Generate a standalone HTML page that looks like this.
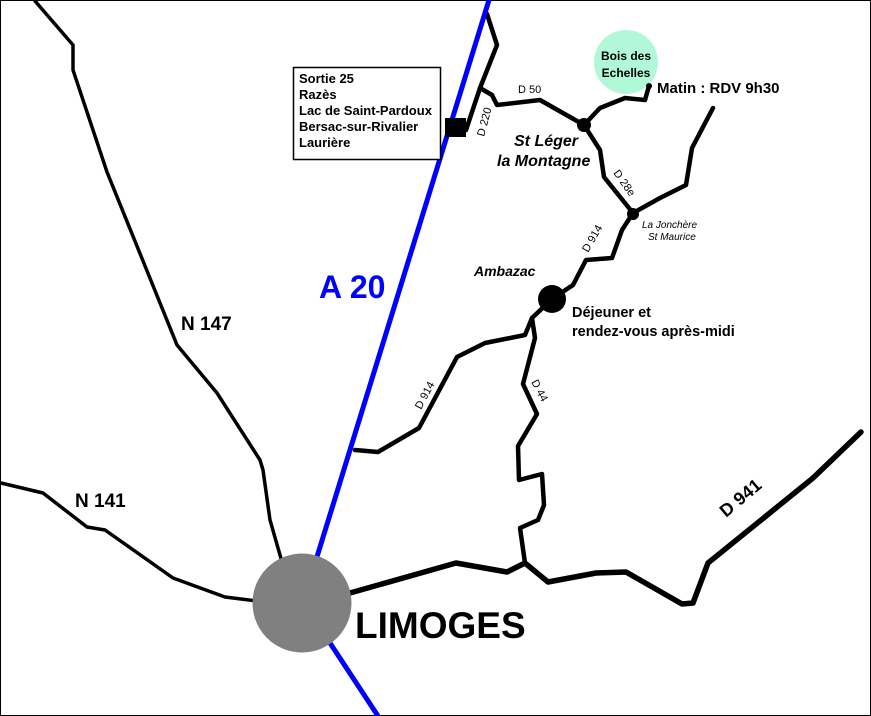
<!DOCTYPE html>
<html><head><meta charset="utf-8"><style>
html,body{margin:0;padding:0;background:#fff}
svg{display:block}
text{font-family:"Liberation Sans",Arial,sans-serif;font-weight:bold;fill:#000}
.n{font-weight:normal}
</style></head><body>
<svg width="871" height="716" viewBox="0 0 871 716" xmlns="http://www.w3.org/2000/svg">
<rect x="0.5" y="0.5" width="870" height="715" fill="#fff" stroke="#000" stroke-width="1"/>
<g fill="none" stroke="#000" stroke-linejoin="round" stroke-linecap="round">
<polyline stroke-width="3.5" points="35,1 73,45 73,70 107,172 177,345 217,393 260,460 263,470 270,520 282,562"/>
<polyline stroke-width="3.5" points="1,483 43,493 87,527 105,530 173,578 225,597 257,601"/>
<polyline stroke-width="4.5" points="487,14 497,45 480,88 466,130 458,128"/>
<polyline stroke-width="4.5" points="480,88 492,95 497,105 540,100 584,125"/>
<polyline stroke-width="4.5" points="584,125 600,108 625,98 645,100 649,86"/>
<polyline stroke-width="4.5" points="584,125 600,150 604,177 633,213"/>
<polyline stroke-width="4.5" points="633,213 660,198 686,185 692,148 713,108"/>
<polyline stroke-width="4.5" points="633,213 622,230 612,258 586,260 573,285 552,299"/>
<polyline stroke-width="4.5" points="552,299 532,318 525,335 485,343 457,357 419,428 378,452 355,450"/>
<polyline stroke-width="4.5" points="532,318 535,338 523,384 537,414 518,446 519,480 542,474 544,505 538,520 520,528 525,563"/>
<polyline stroke-width="5.5" points="350,593 456,563 507,572 525,563 548,582 596,573 626,572 682,604 693,603 708,563 813,478 861,432"/>
</g>
<line x1="489" y1="0" x2="316" y2="560" stroke="#0000ff" stroke-width="5"/>
<line x1="330" y1="643" x2="378" y2="716" stroke="#0000ff" stroke-width="5"/>
<circle cx="302" cy="603" r="49.5" fill="#808080"/>
<circle cx="584" cy="125" r="7" fill="#000"/>
<circle cx="633" cy="214" r="6" fill="#000"/>
<circle cx="552" cy="299" r="14" fill="#000"/>
<rect x="445" y="118" width="21" height="19" fill="#000"/>
<circle cx="626" cy="62" r="32" fill="#b0f8d8"/>
<circle cx="649" cy="86" r="3" fill="#000"/>
<rect x="293.5" y="67.5" width="147" height="92" fill="#fff" stroke="#000" stroke-width="1.5"/>
<text font-size="13">
<tspan x="299" y="83">Sortie 25</tspan>
<tspan x="299" y="99">Razès</tspan>
<tspan x="299" y="115">Lac de Saint-Pardoux</tspan>
<tspan x="299" y="131">Bersac-sur-Rivalier</tspan>
<tspan x="299" y="147">Laurière</tspan>
</text>
<text x="626" y="60" font-size="12" text-anchor="middle">Bois des</text>
<text x="626" y="77" font-size="12" text-anchor="middle">Echelles</text>
<text x="657" y="93" font-size="15">Matin : RDV 9h30</text>
<text x="518" y="93" font-size="11" class="n">D 50</text>
<text font-size="11" class="n" transform="translate(484,137) rotate(-75)">D 220</text>
<text x="514" y="146" font-size="16" font-style="italic">St Léger</text>
<text x="497" y="166" font-size="16" font-style="italic">la Montagne</text>
<text font-size="11" class="n" transform="translate(613,173) rotate(55)">D 28e</text>
<text x="642" y="228" font-size="10" font-style="italic" class="n">La Jonchère</text>
<text x="648" y="240" font-size="10" font-style="italic" class="n">St Maurice</text>
<text font-size="11" class="n" transform="translate(588,253) rotate(-60)">D 914</text>
<text x="474" y="276" font-size="14" font-style="italic">Ambazac</text>
<text x="572" y="317" font-size="14.5">Déjeuner et</text>
<text x="572" y="336" font-size="14.5">rendez-vous après-midi</text>
<text font-size="11" class="n" transform="translate(421,410) rotate(-62)">D 914</text>
<text font-size="11" class="n" transform="translate(531,382) rotate(62)">D 44</text>
<text x="319" y="298" font-size="32" style="fill:#0000ff">A 20</text>
<text x="181" y="330" font-size="19">N 147</text>
<text x="75" y="507" font-size="19">N 141</text>
<text font-size="18" transform="translate(726,518) rotate(-40)">D 941</text>
<text x="355" y="638" font-size="37">LIMOGES</text>
</svg>
</body></html>
